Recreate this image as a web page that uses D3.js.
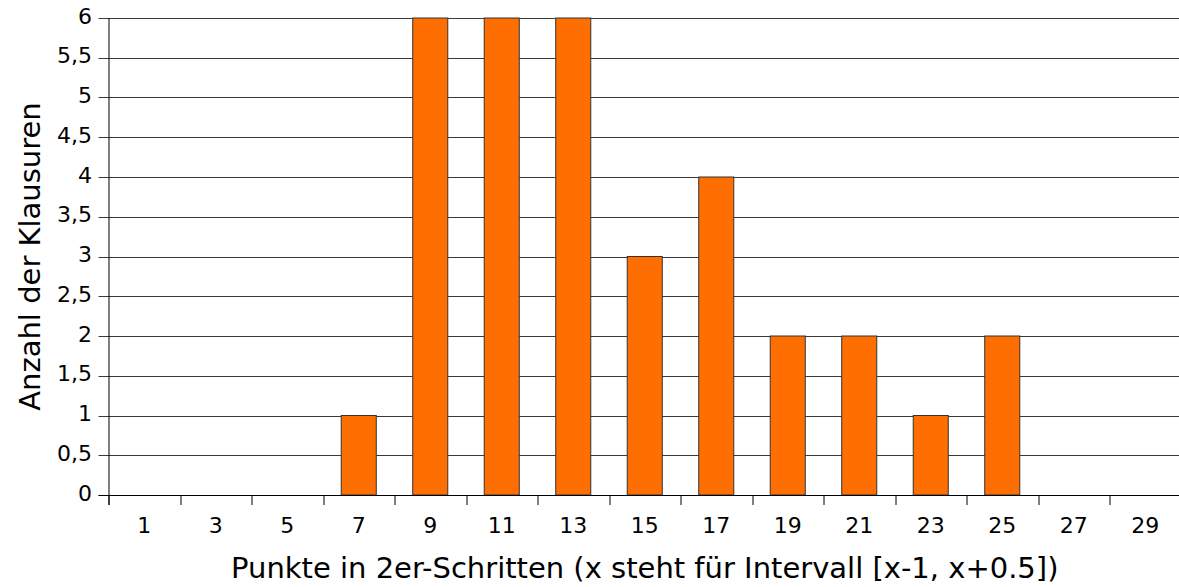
<!DOCTYPE html>
<html lang="en">
<head>
<meta charset="UTF-8">
<title>Klausuren</title>
<style>
  body { margin: 0; background: #fff; }
  text { font-family: "DejaVu Sans", sans-serif; fill: #000; }
</style>
</head>
<body>
<div id="chart"></div>
<script src="https://d3js.org/d3.v7.min.js"></script>
<script>
    // Chart data
    var categories = ["1", "3", "5", "7", "9", "11", "13", "15", "17", "19", "21", "23", "25", "27", "29"];
    var counts = [0, 0, 0, 1, 6, 6, 6, 3, 4, 2, 2, 1, 2, 0, 0];
    var yTicks = [0, 0.5, 1, 1.5, 2, 2.5, 3, 3.5, 4, 4.5, 5, 5.5, 6];

    var vp = {width: 1179, height: 587};
    var margin = {top: 18, right: -2, bottom: 92, left: 108.5};
    var w = vp.width - margin.left - margin.right;
    var h = vp.height - margin.top - margin.bottom;

    var svg = d3.select("#chart").append("svg")
        .attr("width", vp.width)
        .attr("height", vp.height);
    var g = svg.append("g")
        .attr("transform", "translate(" + margin.left + "," + margin.top + ")");

    var x = d3.scaleBand().domain(categories).range([0, w]).paddingInner(0.51).paddingOuter(0.255);
    var xEdges = d3.scaleBand().domain(categories).range([0, w]);
    var y = d3.scaleLinear().domain([0, 6]).range([h, 0]);

    // Horizontal grid lines
    g.append("g").selectAll("line")
        .data(yTicks)
        .enter().append("line")
        .attr("x1", -10).attr("x2", w)
        .attr("y1", d => Math.round(y(d)) + 0.5)
        .attr("y2", d => Math.round(y(d)) + 0.5)
        .attr("stroke", "#3a3a3a")
        .attr("stroke-width", 1);

    // Y tick labels
    g.append("g").selectAll("text")
        .data(yTicks)
        .enter().append("text")
        .attr("x", -16.5)
        .attr("y", d => y(d) + 5.5)
        .attr("text-anchor", "end")
        .style("font-size", "22px")
        .text(d => String(d).replace(".", ","));

    // Bars
    g.append("g").selectAll("rect")
        .data(counts)
        .enter().append("rect")
        .attr("x", (d, i) => x(categories[i]))
        .attr("y", d => y(d))
        .attr("width", x.bandwidth())
        .attr("height", d => h - y(d))
        .attr("fill", "#ff6e00")
        .attr("stroke", "#333")
        .attr("stroke-width", 1);

    // Y axis line
    g.append("line")
        .attr("x1", 0.5).attr("x2", 0.5)
        .attr("y1", 0).attr("y2", h + 10)
        .attr("stroke", "#000");

    // X axis line and ticks at band edges
    g.append("line")
        .attr("x1", -10).attr("x2", w)
        .attr("y1", Math.round(h) + 0.5).attr("y2", Math.round(h) + 0.5)
        .attr("stroke", "#000");
    g.append("g").selectAll("line")
        .data(categories)
        .enter().append("line")
        .attr("x1", d => Math.round(xEdges(d)) + 0.5)
        .attr("x2", d => Math.round(xEdges(d)) + 0.5)
        .attr("y1", h).attr("y2", h + 10)
        .attr("stroke", "#000");

    // X tick labels
    g.append("g").selectAll("text")
        .data(categories)
        .enter().append("text")
        .attr("x", d => xEdges(d) + xEdges.bandwidth() / 2)
        .attr("y", 533 - margin.top)
        .attr("text-anchor", "middle")
        .style("font-size", "22px")
        .text(d => d);

    // Axis titles
    svg.append("text")
        .attr("x", margin.left + w / 2)
        .attr("y", 578)
        .attr("text-anchor", "middle")
        .style("font-size", "29px")
        .text("Punkte in 2er-Schritten (x steht für Intervall [x-1, x+0.5])");

    svg.append("text")
        .attr("transform", "translate(40," + (margin.top + h / 2) + ") rotate(-90)")
        .attr("text-anchor", "middle")
        .style("font-size", "29px")
        .text("Anzahl der Klausuren");
</script>
</body>
</html>
